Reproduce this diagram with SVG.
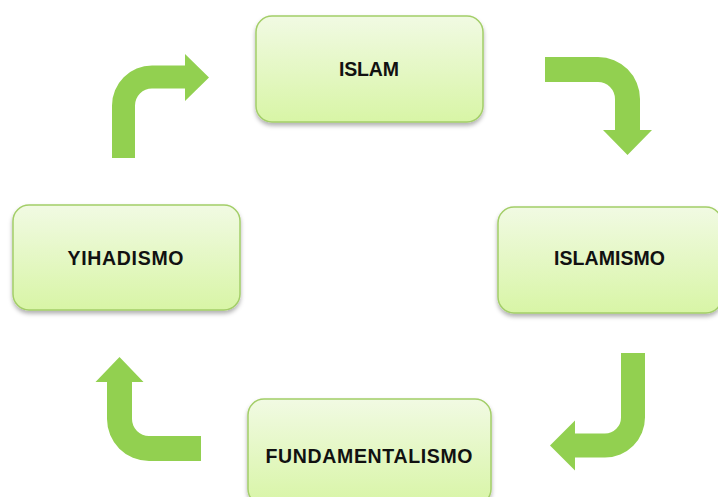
<svg xmlns="http://www.w3.org/2000/svg" width="718" height="497" viewBox="0 0 718 497">
<defs>
<linearGradient id="g" x1="0" y1="0" x2="0" y2="1">
<stop offset="0" stop-color="#F1FAE3"/>
<stop offset="1" stop-color="#D8F5A6"/>
</linearGradient>
<filter id="sh" x="-10%" y="-10%" width="120%" height="130%">
<feDropShadow dx="0" dy="3" stdDeviation="2" flood-color="#000" flood-opacity="0.3"/>
</filter>
<style>
.box{fill:url(#g);stroke:#A3CE68;stroke-width:1.5;filter:url(#sh)}
.lbl{font-family:"Liberation Sans",Arial,sans-serif;font-weight:bold;font-size:19.5px;fill:#111;text-anchor:middle}
.arr{fill:#92D050}
</style>
</defs>
<rect width="718" height="497" fill="#fff"/>
<g id="connectors">
<path class="arr" d="M112,158 L112,105.5 A40,40 0 0 1 152,65.5 L185,65.5 L185,54 L209,77.5 L185,101 L185,88.5 L152,88.5 A17,17 0 0 0 135,105.5 L135,158 Z"/>
<path class="arr" d="M545,57 L598,57 A42,42 0 0 1 640,99 L640,130 L652,130 L627.5,155 L603,130 L615,130 L615,99 A17,17 0 0 0 598,82 L545,82 Z"/>
<path class="arr" d="M621,353 L645,353 L645,417.5 A40,40 0 0 1 605,457.5 L575,457.5 L575,470.5 L550,445.5 L575,420.5 L575,433.5 L605,433.5 A16,16 0 0 0 621,417.5 Z"/>
<path class="arr" d="M201,436 L201,461 L149,461 A42,42 0 0 1 107,419 L107,382 L95.5,382 L119.5,357 L143.5,382 L132,382 L132,419 A17,17 0 0 0 149,436 Z"/>
</g>
<g id="islam">
<rect class="box" x="256" y="16" width="227" height="106" rx="16"/>
<text class="lbl" x="369" y="76" textLength="60">ISLAM</text>
</g>
<g id="islamismo">
<rect class="box" x="498" y="207" width="224" height="106" rx="16"/>
<text class="lbl" x="609.5" y="265" textLength="111">ISLAMISMO</text>
</g>
<g id="yihadismo">
<rect class="box" x="13" y="205" width="227" height="105" rx="16"/>
<text class="lbl" x="125.5" y="265" textLength="116">YIHADISMO</text>
</g>
<g id="fundamentalismo">
<rect class="box" x="248" y="399" width="243" height="106" rx="16"/>
<text class="lbl" x="369" y="463" textLength="207">FUNDAMENTALISMO</text>
</g>
</svg>
